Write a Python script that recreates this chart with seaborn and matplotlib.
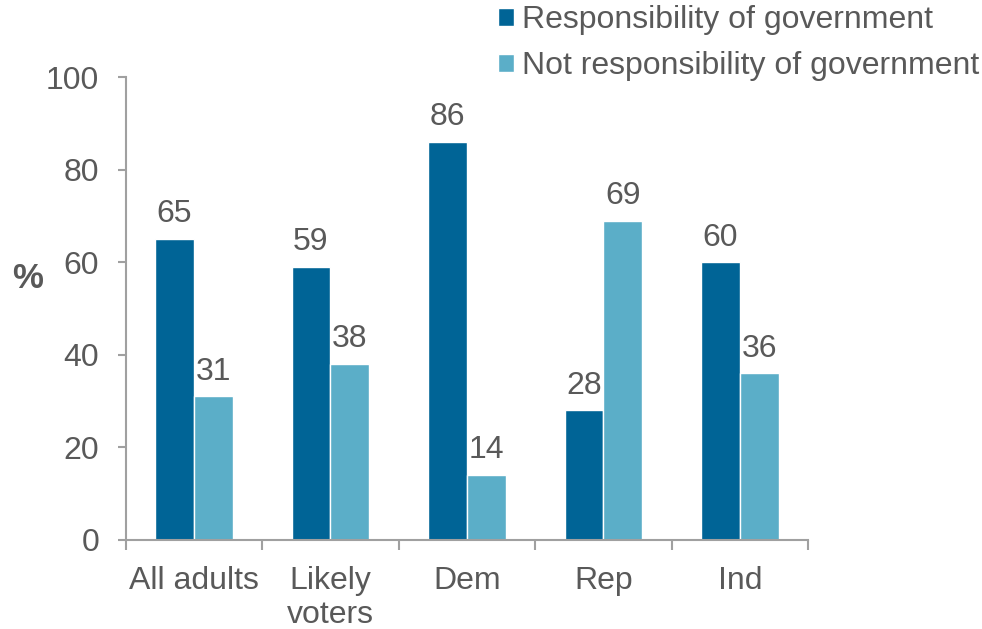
import pandas as pd
import matplotlib.pyplot as plt
import seaborn as sns

categories = ["All adults", "Likely\nvoters", "Dem", "Rep", "Ind"]
series_names = ["Responsibility of government", "Not responsibility of government"]
responsible = [65, 59, 86, 28, 60]
not_responsible = [31, 38, 14, 69, 36]

colors = ["#006496", "#5BAEC8"]
text_color = "#595959"
axis_color = "#A0A0A0"
fs = 23

data = pd.DataFrame({
    "group": categories * 2,
    "series": [series_names[0]] * len(categories) + [series_names[1]] * len(categories),
    "value": responsible + not_responsible,
})

sns.set_style("white")
plt.rcParams["font.family"] = ["Liberation Sans", "DejaVu Sans"]

fig = plt.figure(figsize=(9.82, 6.29), dpi=100)
ax = fig.add_axes([0.128, 0.1415, 0.695, 0.736])

sns.barplot(
    data=data,
    x="group",
    y="value",
    hue="series",
    palette=colors,
    width=0.57,
    saturation=1,
    ax=ax,
)

for container in ax.containers:
    ax.bar_label(container, fontsize=fs, color=text_color, padding=7)

ax.set_ylim(0, 100)
ax.set_xlim(-0.5, len(categories) - 0.5)
ax.set_yticks(range(0, 101, 20))
ax.set_xticks(range(len(categories)))
ax.set_xticklabels(categories, linespacing=1.15)
ax.set_xticks([i - 0.5 for i in range(len(categories) + 1)], minor=True)

ax.tick_params(axis="y", which="major", direction="out", length=6, width=1.5,
               color=axis_color, labelsize=fs, labelcolor=text_color, pad=13, left=True)
ax.tick_params(axis="x", which="major", length=0, labelsize=fs,
               labelcolor=text_color, pad=19)
ax.tick_params(axis="x", which="minor", direction="out", length=7, width=1.5,
               color=axis_color, bottom=True)

for side in ["top", "right"]:
    ax.spines[side].set_visible(False)
for side in ["left", "bottom"]:
    ax.spines[side].set_color(axis_color)
    ax.spines[side].set_linewidth(1.5)

ax.set_xlabel("")
ax.set_ylabel("")
fig.text(28 / 982, 1 - 278 / 629, "%", fontsize=fs + 2, fontweight="bold",
         color=text_color, ha="center", va="center")

handles, labels = ax.get_legend_handles_labels()
ax.get_legend().remove()
fig.legend(
    handles,
    labels,
    loc="upper left",
    bbox_to_anchor=(0.494, 1.012),
    frameon=False,
    fontsize=fs,
    labelcolor=text_color,
    handlelength=0.5,
    handleheight=0.5,
    handletextpad=0.25,
    labelspacing=0.5,
    borderaxespad=0,
)

plt.savefig("out.png", dpi=100)
